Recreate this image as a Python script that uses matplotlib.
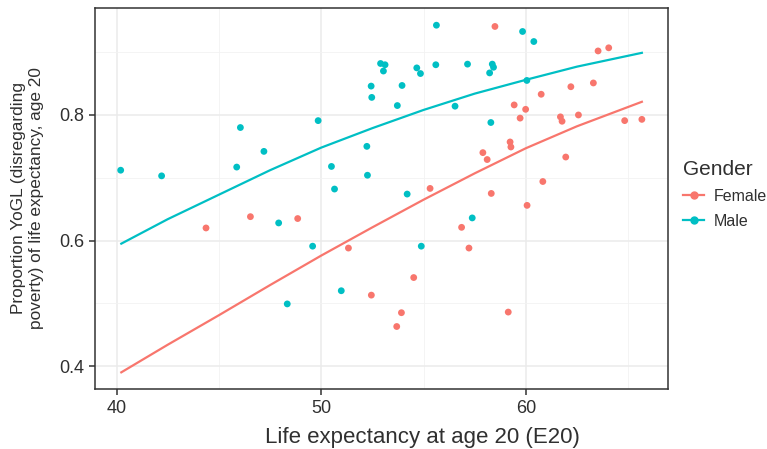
import numpy as np
import matplotlib.pyplot as plt
from matplotlib.lines import Line2D

plt.rcParams['font.family'] = ['Liberation Sans', 'DejaVu Sans']

# points
male_x = [40.2, 42.2, 46.05, 45.87, 47.2, 49.85, 50.5, 50.65, 52.23, 52.26,
          52.44, 52.47, 55.63, 52.9, 53.12, 53.04, 54.67, 54.85, 53.95, 53.72,
          55.6, 57.15, 56.54, 58.36, 58.42, 58.23, 58.29, 59.84, 60.39, 60.05,
          54.2, 47.92, 49.58, 48.34, 50.98, 57.38, 54.89]
male_y = [0.712, 0.703, 0.780, 0.717, 0.742, 0.791, 0.718, 0.682, 0.750, 0.704,
          0.846, 0.828, 0.943, 0.882, 0.880, 0.870, 0.875, 0.866, 0.847, 0.815,
          0.880, 0.881, 0.814, 0.881, 0.876, 0.867, 0.788, 0.933, 0.917, 0.855,
          0.674, 0.628, 0.591, 0.499, 0.520, 0.636, 0.591]

female_x = [58.49, 63.53, 64.05, 62.2, 63.3, 60.75, 59.43, 59.99, 59.72, 61.69,
            61.77, 62.57, 64.83, 65.67, 59.23, 59.27, 57.9, 58.11, 61.95, 60.83,
            55.32, 58.31, 60.06, 44.37, 46.54, 48.85, 51.33, 52.45, 56.86, 57.22,
            54.52, 53.92, 53.69, 59.14]
female_y = [0.941, 0.902, 0.907, 0.845, 0.851, 0.833, 0.816, 0.809, 0.795, 0.797,
            0.790, 0.800, 0.791, 0.793, 0.757, 0.749, 0.740, 0.729, 0.733, 0.694,
            0.683, 0.675, 0.656, 0.620, 0.638, 0.635, 0.588, 0.513, 0.621, 0.588,
            0.541, 0.485, 0.463, 0.486]

# fitted curves, read at a few x positions
fit_x = [40.23, 42.5, 45.0, 47.5, 50.0, 52.5, 55.0, 57.5, 60.0, 62.5, 65.67]
male_fit = [0.595, 0.634, 0.673, 0.712, 0.748, 0.779, 0.808, 0.834, 0.856, 0.877, 0.899]
female_fit = [0.390, 0.434, 0.481, 0.529, 0.576, 0.621, 0.665, 0.707, 0.747, 0.782, 0.821]

red = '#F8766D'
teal = '#00BFC4'
txt = '#303030'

fig = plt.figure(figsize=(7.67, 4.49), dpi=100)
ax = fig.add_axes([0.124, 0.133, 0.747, 0.850])

ax.plot(fit_x, female_fit, color=red, lw=1.6, zorder=3)
ax.plot(fit_x, male_fit, color=teal, lw=1.6, zorder=3)
ax.scatter(female_x, female_y, s=24, color=red, edgecolors='none', zorder=4)
ax.scatter(male_x, male_y, s=24, color=teal, edgecolors='none', zorder=4)

ax.set_xlim(38.95, 66.95)
ax.set_ylim(0.363, 0.971)
ax.set_xticks([40, 50, 60])
ax.set_yticks([0.4, 0.6, 0.8])
ax.set_yticklabels(['0.4', '0.6', '0.8'])
ax.set_xticks([45, 55, 65], minor=True)
ax.set_yticks([0.5, 0.7, 0.9], minor=True)
ax.grid(True, which='major', color='#ebebeb', lw=1.1)
ax.grid(True, which='minor', color='#f2f2f2', lw=0.6)
ax.set_axisbelow(True)
ax.tick_params(which='major', length=4, width=1.1, color='#333333',
               labelsize=13, labelcolor=txt, pad=3.5)
ax.tick_params(which='minor', length=0)
for s in ax.spines.values():
    s.set_color('#333333')
    s.set_linewidth(1.1)

ax.set_xlabel('Life expectancy at age 20 (E20)', fontsize=16, color=txt)
ax.xaxis.set_label_coords(0.572, -0.098)
ax.set_ylabel('Proportion YoGL (disregarding\npoverty) of life expectancy, age 20',
              fontsize=12.4, color=txt, linespacing=1.2)
ax.yaxis.set_label_coords(-0.09, 0.5)

handles = [Line2D([], [], color=red, lw=1.6, marker='o', ms=5),
           Line2D([], [], color=teal, lw=1.6, marker='o', ms=5)]
leg = fig.legend(handles, ['Female', 'Male'], title='Gender', loc='upper left',
                 bbox_to_anchor=(0.872, 0.676), frameon=False, fontsize=11.5,
                 title_fontsize=15, handlelength=1.3, handletextpad=0.6,
                 labelspacing=0.62, alignment='left')
for t in leg.get_texts():
    t.set_color(txt)
leg.get_title().set_color(txt)

fig.savefig('out.png', dpi=100)
